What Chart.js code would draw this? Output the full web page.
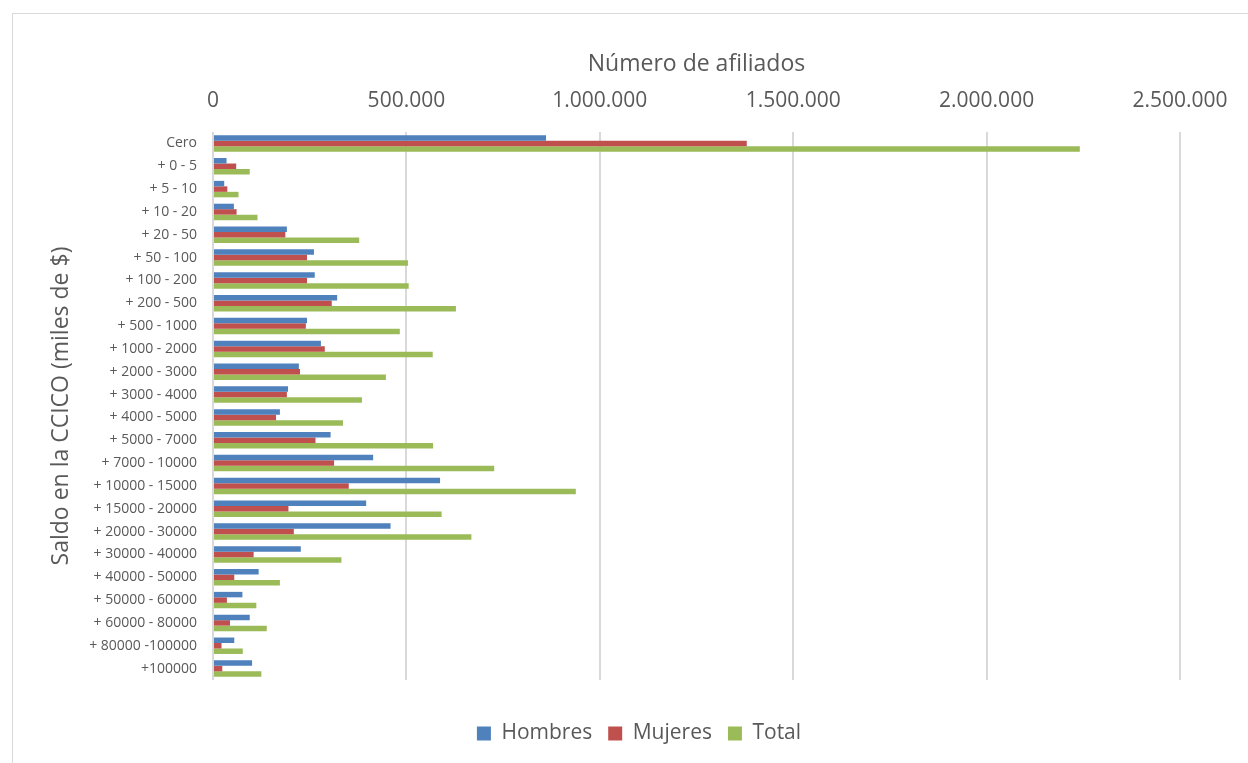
<!DOCTYPE html>
<html>
<head>
<meta charset="utf-8">
<script src="https://cdn.jsdelivr.net/npm/chart.js@4.4.1/dist/chart.umd.min.js"></script>
<style>
  html, body { margin: 0; padding: 0; background: #fff; overflow: hidden; }
  #frame { position: absolute; left: 12px; top: 13px; width: 1300px; height: 800px; border: 1px solid #d9d9d9; }
  #wrap { position: absolute; left: 0; top: 0; width: 1248px; height: 763px; }
</style>
</head>
<body>
<div id="frame"></div>
<div id="wrap"><canvas id="saldoChart"></canvas></div>
<script>
// ── Data ──
const categories = ['Cero', '+ 0 - 5', '+ 5 - 10', '+ 10 - 20', '+ 20 - 50', '+ 50 - 100', '+ 100 - 200',
    '+ 200 - 500', '+ 500 - 1000', '+ 1000 - 2000', '+ 2000 - 3000', '+ 3000 - 4000', '+ 4000 - 5000',
    '+ 5000 - 7000', '+ 7000 - 10000', '+ 10000 - 15000', '+ 15000 - 20000', '+ 20000 - 30000',
    '+ 30000 - 40000', '+ 40000 - 50000', '+ 50000 - 60000', '+ 60000 - 80000', '+ 80000 -100000', '+100000'];

const hombres = [861000, 35000, 29000, 54000, 191000, 261000, 263000, 321000, 243000, 279000, 222000, 194000,
    173000, 304000, 414000, 587000, 396000, 459000, 227000, 118000, 76000, 95000, 55000, 101000];
const mujeres = [1380000, 60000, 37000, 61000, 187000, 243000, 243000, 307000, 240000, 289000, 225000, 191000,
    163000, 265000, 313000, 351000, 195000, 209000, 105000, 55000, 36000, 44000, 22000, 24000];
const total = [2241000, 95000, 66000, 115000, 378000, 504000, 506000, 628000, 483000, 568000, 447000, 385000,
    336000, 569000, 727000, 938000, 591000, 668000, 332000, 173000, 112000, 139000, 77000, 125000];

const xTicks = [0, 500000, 1000000, 1500000, 2000000, 2500000];

const colors = { blue: '#4f81bd', red: '#c0504d', green: '#9bbb59', grid: '#d9d9d9', text: '#595959' };

function fmt(v) {
    return String(v).replace(/\B(?=(\d{3})+(?!\d))/g, '.');
}

// nudge the legend to the right, as in the original layout
const legendShift = {
    id: 'legendShift',
    afterLayout(chart) {
        const lg = chart.legend;
        if (lg) { lg.left += 29; lg.right += 29; }
    }
};

Chart.defaults.font.family = "'Open Sans', sans-serif";
Chart.defaults.color = colors.text;

const ctx = document.getElementById('saldoChart');
new Chart(ctx, {
    type: 'bar',
    data: {
        labels: categories,
        datasets: [
            { label: 'Hombres', data: hombres, backgroundColor: colors.blue },
            { label: 'Mujeres', data: mujeres, backgroundColor: colors.red },
            { label: 'Total', data: total, backgroundColor: colors.green }
        ]
    },
    plugins: [legendShift],
    options: {
        indexAxis: 'y',
        responsive: true,
        maintainAspectRatio: false,
        animation: false,
        datasets: { bar: { categoryPercentage: 0.72, barPercentage: 1.0 } },
        layout: { padding: { top: 30, left: 40, right: 68, bottom: 9 } },
        plugins: {
            tooltip: { enabled: false },
            legend: {
                position: 'bottom',
                title: { display: true, text: '', font: { size: 10 }, padding: { top: 15, bottom: 0 } },
                labels: {
                    boxWidth: 14,
                    boxHeight: 14,
                    padding: 16,
                    color: colors.text,
                    font: { size: 21 }
                }
            }
        },
        scales: {
            x: {
                position: 'top',
                min: 0,
                max: 2500000,
                afterBuildTicks: (scale) => { scale.ticks = xTicks.map(v => ({ value: v })); },
                afterFit: (scale) => { scale.height = 102; },
                ticks: {
                    padding: 18,
                    color: colors.text,
                    font: { size: 21 },
                    callback: (v) => fmt(v)
                },
                grid: { color: colors.grid, lineWidth: 2, drawTicks: false },
                border: { display: false },
                title: {
                    display: true,
                    text: 'Número de afiliados',
                    color: colors.text,
                    font: { size: 23 },
                    padding: { top: 21, bottom: 0 }
                }
            },
            y: {
                afterFit: (scale) => { scale.width = 173; },
                ticks: { padding: 8, color: colors.text, font: { size: 14 }, autoSkip: false },
                grid: { display: false },
                border: { display: false },
                title: {
                    display: true,
                    text: 'Saldo en la CCICO (miles de $)',
                    color: colors.text,
                    font: { size: 23 },
                    padding: { top: 8, bottom: 0 }
                }
            }
        }
    }
});
</script>
</body>
</html>
